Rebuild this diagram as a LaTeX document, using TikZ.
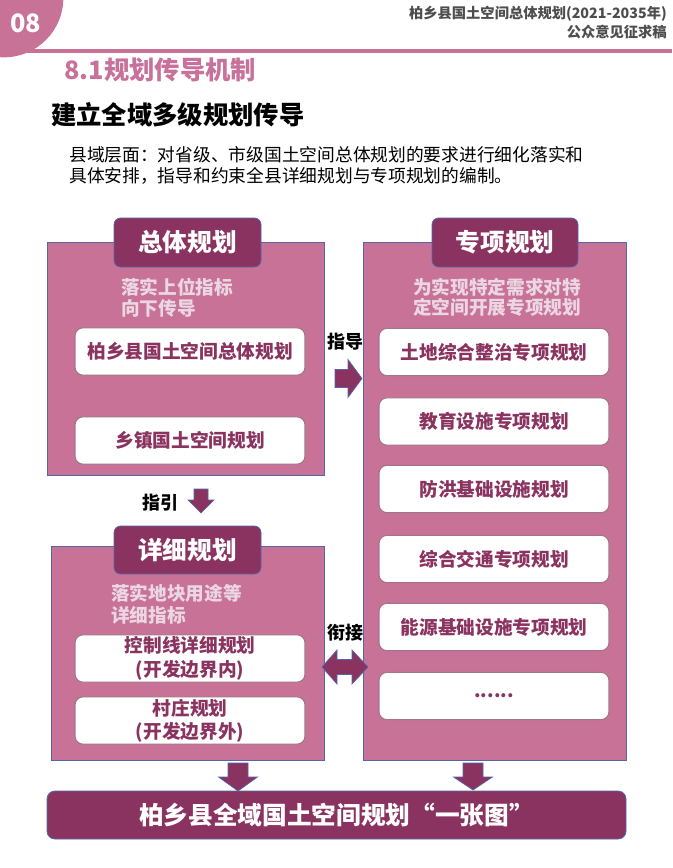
\documentclass[tikz,border=0pt]{standalone}
\usepackage{fontspec}
\setmainfont{Noto Sans CJK SC}
\definecolor{pinkbox}{HTML}{C97297}
\definecolor{darkm}{HTML}{8B3360}
\definecolor{bordb}{HTML}{5068A8}
\definecolor{wbord}{HTML}{A07585}
\definecolor{subtxt}{HTML}{EBD7E1}
\definecolor{headgray}{HTML}{4D4D4D}
\definecolor{titlepink}{HTML}{C8719A}
\newcommand\fs[2]{\fontsize{#1pt}{#2pt}\selectfont}
\begin{document}
\begin{tikzpicture}[x=0.75pt,y=-0.75pt,
  bigbox/.style={draw=bordb,fill=pinkbox,line width=0.6pt,inner sep=0pt},
  tabbox/.style={draw=bordb,fill=darkm,line width=0.6pt,rounded corners=5pt,text=white,font=\fs{18.5}{20}\bfseries,inner sep=0pt,minimum height=36.75pt},
  wbox/.style={draw=wbord,fill=white,line width=0.8pt,rounded corners=6pt,text=darkm,font=\fs{14}{17.5}\bfseries,inner sep=0pt,minimum width=172.5pt,minimum height=35.5pt,align=center},
  subt/.style={text=subtxt,font=\fs{14}{15.5}\bfseries,align=left,inner sep=0pt},
  lbl/.style={text=black,font=\fs{13.5}{14}\bfseries,inner sep=0pt},
  arr/.style={draw=bordb,fill=darkm,line width=0.5pt,line join=miter}]
\useasboundingbox (0,0) rectangle (672,868);
\fill[white] (0,0) rectangle (672,868);
% header
\fill[pinkbox] (0,48.5) rectangle (672,52.5);
\fill[pinkbox] (4,-2) circle[radius=44.5pt];
\node[text=white,font=\fs{19}{20}\bfseries,inner sep=0pt] (num) at (26,23) {08};
\node[text=headgray,font=\fs{10.7}{12}\bfseries,anchor=east,inner sep=0pt] (h1) at (667,14) {柏乡县国土空间总体规划(2021-2035年)};
\node[text=headgray,font=\fs{10.7}{12}\bfseries,anchor=east,inner sep=0pt] (h2) at (667,32) {公众意见征求稿};
\node[text=titlepink,font=\fs{19}{20}\bfseries,anchor=west,inner sep=0pt] (sec) at (64,70) {8.1规划传导机制};
\node[text=black,font=\fs{19}{20}\bfseries,anchor=west,inner sep=0pt] (ttl) at (51,115) {建立全域多级规划传导};
\node[text=black,font=\fs{13.3}{15.75},anchor=west,align=left,inner sep=0pt] (para) at (69,165.5)
  {县域层面：对省级、市级国土空间总体规划的要求进行细化落实和\\具体安排，指导和约束全县详细规划与专项规划的编制。};
% big boxes
\node[bigbox,minimum width=207.75pt,minimum height=174.75pt] (zt) at (185.5,358.5) {};
\node[bigbox,minimum width=197.25pt,minimum height=388.5pt] (zx) at (494.5,501) {};
\node[bigbox,minimum width=204.75pt,minimum height=160.5pt] (xx) at (187.5,653) {};
% tabs
\node[tabbox,minimum width=110.25pt] (t1) at (187.5,242.5) {总体规划};
\node[tabbox,minimum width=109.5pt] (t2) at (505,242.5) {专项规划};
\node[tabbox,minimum width=110.25pt,minimum height=36pt] (t3) at (187.5,550) {详细规划};
% subtitles
\node[subt,anchor=west] (s1) at (121,297.5) {落实上位指标\\向下传导};
\node[subt,anchor=west] (s2) at (413,297.5) {为实现特定需求对特\\定空间开展专项规划};
\node[subt,font=\fs{14}{16.5}\bfseries,anchor=west] (s3) at (111,604) {落实地块用途等\\详细指标};
% white boxes left
\node[wbox] (a1) at (190,351.5) {柏乡县国土空间总体规划};
\node[wbox] (a2) at (190,440.5) {乡镇国土空间规划};
\node[wbox] (a3) at (190,658.5) {控制线详细规划\\(开发边界内)};
\node[wbox] (a4) at (190,720.5) {村庄规划\\(开发边界外)};
% white boxes right
\node[wbox] (b1) at (494,352) {土地综合整治专项规划};
\node[wbox] (b2) at (494,421.5) {教育设施专项规划};
\node[wbox] (b3) at (494,489) {防洪基础设施规划};
\node[wbox] (b4) at (494,559) {综合交通专项规划};
\node[wbox] (b5) at (494,627) {能源基础设施专项规划};
\node[wbox] (b6) at (494,696) {\raisebox{-3pt}{......}};
% banner
\node[draw=bordb,fill=darkm,line width=0.6pt,rounded corners=6pt,text=white,font=\fs{18.5}{20}\bfseries,inner sep=0pt,minimum width=434.25pt,minimum height=36pt] (ban) at (336.5,815) {柏乡县全域国土空间规划“一张图”};
% labels
\node[lbl] (l1) at (345,342) {指导};
\node[lbl] (l2) at (345,633) {衔接};
\node[lbl] (l3) at (160.5,503) {指引};
% block arrows
\draw[arr] (335,369.5) -- (348,369.5) -- (348,359.5) -- (362,378.5) -- (348,397.5) -- (348,387.5) -- (335,387.5) -- cycle;
\draw[arr] (322,667) -- (337,650) -- (337,659.5) -- (352,659.5) -- (352,650) -- (368,667) -- (352,684) -- (352,674.5) -- (337,674.5) -- (337,684) -- cycle;
\draw[arr] (194,489) -- (208,489) -- (208,500) -- (214,500) -- (201,513) -- (188,500) -- (194,500) -- cycle;
\draw[arr] (228,763) -- (248,763) -- (248,777) -- (257.5,777) -- (238,791) -- (218.5,777) -- (228,777) -- cycle;
\draw[arr] (463,763) -- (483,763) -- (483,777) -- (492.5,777) -- (473,790) -- (453.5,777) -- (463,777) -- cycle;
\end{tikzpicture}
\end{document}
